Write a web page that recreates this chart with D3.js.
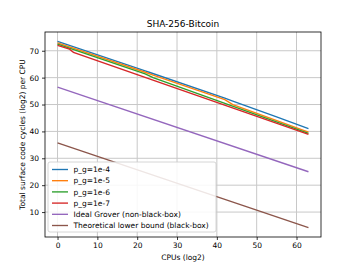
<!DOCTYPE html>
<html>
<head>
<meta charset="utf-8">
<script src="https://cdn.jsdelivr.net/npm/d3@7"></script>
<style>
  body { margin: 0; background: #fff; }
  text { font-family: "DejaVu Sans", sans-serif; fill: #000; }
</style>
</head>
<body>
<svg id="chart"></svg>
<script>
var width = 356, height = 267;
var margin = {left: 45, right: 35, top: 32, bottom: 30};

// series names and (cpus log2, cycles log2) points
var seriesNames = ["p_g=1e-4", "p_g=1e-5", "p_g=1e-6", "p_g=1e-7",
    "Ideal Grover (non-black-box)", "Theoretical lower bound (black-box)"];
var colors = ["#1f77b4", "#ff7f0e", "#2ca02c", "#d62728", "#9467bd", "#8c564b"];
var pg4 = [[0, 73.5], [22, 62.5], [23, 62.0], [42, 52.4], [44, 51.3], [55, 45.4], [63, 41.0]];
var pg5 = [[0, 72.9], [22, 62.0], [24, 60.9], [42, 51.8], [44, 50.0], [63, 39.7]];
var pg6 = [[0, 72.5], [22, 61.4], [24, 60.0], [63, 39.3]];
var pg7 = [[0, 72.0], [3, 70.6], [4, 69.4], [63, 38.9]];
var grover = [[0, 56.5], [63, 25.0]];
var lower = [[0, 35.7], [63, 4.2]];
var allSeries = [pg4, pg5, pg6, pg7, grover, lower];
var xTicks = [0, 10, 20, 30, 40, 50, 60];
var yTicks = [10, 20, 30, 40, 50, 60, 70];

var svg = d3.select("#chart")
    .attr("width", width)
    .attr("height", height);

var x = d3.scaleLinear()
    .domain([-3.15, 66.15])
    .range([margin.left, width - margin.right]);
var y = d3.scaleLinear()
    .domain([0.73, 76.97])
    .range([height - margin.bottom, margin.top]);

// grid
svg.append("g")
    .selectAll("line.gx")
    .data(xTicks)
    .enter().append("line")
        .attr("x1", x).attr("x2", x)
        .attr("y1", margin.top).attr("y2", height - margin.bottom)
        .attr("stroke", "#c8c8c8").attr("stroke-width", 1);
svg.append("g")
    .selectAll("line.gy")
    .data(yTicks)
    .enter().append("line")
        .attr("y1", y).attr("y2", y)
        .attr("x1", margin.left).attr("x2", width - margin.right)
        .attr("stroke", "#c8c8c8").attr("stroke-width", 1);

var line = d3.line()
    .x(function(d) { return x(d[0]); })
    .y(function(d) { return y(d[1]); });

svg.append("g")
    .selectAll("path")
    .data(allSeries)
    .enter().append("path")
        .attr("d", line)
        .attr("fill", "none")
        .attr("stroke", function(d, i) { return colors[i]; })
        .attr("stroke-width", 1.35);

// axes
var xAxis = svg.append("g")
    .attr("transform", "translate(0," + (height - margin.bottom) + ")")
    .call(d3.axisBottom(x).tickValues(xTicks).tickSize(3).tickPadding(3));
var yAxis = svg.append("g")
    .attr("transform", "translate(" + margin.left + ",0)")
    .call(d3.axisLeft(y).tickValues(yTicks).tickSize(3).tickPadding(3));
[xAxis, yAxis].forEach(function(a) {
    a.select(".domain").remove();
    a.selectAll("text").style("font-size", "7.5px").style("font-family", "DejaVu Sans");
    a.selectAll("line").attr("stroke", "#000").attr("stroke-width", 0.8);
});

svg.append("rect")
    .attr("x", margin.left).attr("y", margin.top)
    .attr("width", width - margin.left - margin.right)
    .attr("height", height - margin.top - margin.bottom)
    .attr("fill", "none").attr("stroke", "#000").attr("stroke-width", 0.8);

// labels
svg.append("text")
    .attr("x", (margin.left + width - margin.right) / 2)
    .attr("y", 27)
    .attr("text-anchor", "middle")
    .style("font-size", "9px")
    .text("SHA-256-Bitcoin");
svg.append("text")
    .attr("x", (margin.left + width - margin.right) / 2)
    .attr("y", 260)
    .attr("text-anchor", "middle")
    .style("font-size", "7.5px")
    .text("CPUs (log2)");
svg.append("text")
    .attr("transform", "translate(25," + ((margin.top + height - margin.bottom) / 2) + ") rotate(-90)")
    .attr("text-anchor", "middle")
    .style("font-size", "7.5px")
    .text("Total surface code cycles (log2) per CPU");

// legend
var legend = svg.append("g").attr("transform", "translate(48,162)");
legend.append("rect")
    .attr("width", 168).attr("height", 70)
    .attr("rx", 2)
    .attr("fill", "#fff").attr("fill-opacity", 0.85)
    .attr("stroke", "#cccccc").attr("stroke-width", 0.8);
var items = legend.selectAll("g.item")
    .data(seriesNames)
    .enter().append("g")
        .attr("transform", function(d, i) { return "translate(0," + (7.5 + i * 11.2) + ")"; });
items.append("line")
    .attr("x1", 4).attr("x2", 20)
    .attr("stroke", function(d, i) { return colors[i]; })
    .attr("stroke-width", 1.35);
items.append("text")
    .attr("x", 25.5).attr("y", 2.7)
    .style("font-size", "7.5px")
    .text(function(d) { return d; });
</script>
</body>
</html>
